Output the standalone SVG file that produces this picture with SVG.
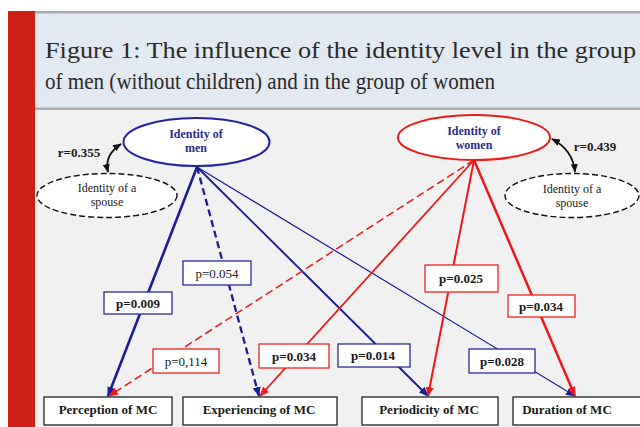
<svg xmlns="http://www.w3.org/2000/svg" width="640" height="427" viewBox="0 0 640 427">
<style>
.title{font-family:"Liberation Serif","DejaVu Serif",serif;font-size:23px;fill:#2a2a2a}
.t{font-family:"Liberation Serif","Times New Roman",serif;font-size:13px;fill:#1a1a1a;text-anchor:middle}
.e{font-size:12px}
.b{font-weight:bold}
.nav{fill:#2c2c8c;font-weight:bold}
.box{fill:#ffffff;stroke:#222;stroke-width:1.3}
.lb{fill:#ffffff;stroke:#2a2a9a;stroke-width:1.3}
.lr{fill:#ffffff;stroke:#ee2222;stroke-width:1.3}
.sp{fill:#ffffff;stroke:#111;stroke-width:1.4;stroke-dasharray:6 3}
.bl{stroke:#1c1c94;fill:none}
.rd{stroke:#f01818;fill:none}
.cor{stroke:#111;stroke-width:1.8;fill:none}
</style>
<defs>
<marker id="ab" viewBox="0 0 10 8" refX="9" refY="4" markerWidth="10" markerHeight="8" markerUnits="userSpaceOnUse" orient="auto"><path d="M0,0 L10,4 L0,8 Z" fill="#1c1c94"/></marker>
<marker id="ar" viewBox="0 0 10 8" refX="9" refY="4" markerWidth="10" markerHeight="8" markerUnits="userSpaceOnUse" orient="auto"><path d="M0,0 L10,4 L0,8 Z" fill="#f01818"/></marker>
<marker id="ak" viewBox="0 0 10 8" refX="9" refY="4" markerWidth="9" markerHeight="7" markerUnits="userSpaceOnUse" orient="auto-start-reverse"><path d="M0,0 L10,4 L0,8 Z" fill="#111"/></marker>
</defs>
<rect x="0" y="0" width="640" height="427" fill="#ffffff"/>
<rect x="8" y="11" width="27" height="416" fill="#cc2014"/>
<rect x="35" y="11" width="605" height="99" fill="#e3e9f1"/>
<rect x="35" y="11" width="605" height="2.5" fill="#a8acb1"/>
<rect x="35" y="107.5" width="605" height="2.5" fill="#a8acb1"/>
<rect x="35" y="110" width="605" height="317" fill="#f1f1f1"/>
<text class="title" x="45" y="58" textLength="591" lengthAdjust="spacingAndGlyphs">Figure 1: The influence of the identity level in the group</text>
<text class="title" x="45" y="89" textLength="450" lengthAdjust="spacingAndGlyphs">of men (without children) and in the group of women</text>

<g id="connectors">
<line class="bl" x1="197" y1="167" x2="108" y2="396" stroke-width="2.6" marker-end="url(#ab)"/>
<line class="bl" x1="197" y1="167" x2="259" y2="396" stroke-width="2.3" stroke-dasharray="7 4" marker-end="url(#ab)"/>
<line class="bl" x1="197" y1="167" x2="428" y2="396" stroke-width="1.9" marker-end="url(#ab)"/>
<line class="bl" x1="197" y1="167" x2="575" y2="396" stroke-width="1.2" marker-end="url(#ab)"/>
<line class="rd" x1="474" y1="160" x2="109" y2="396" stroke-width="1.5" stroke-dasharray="8 4" marker-end="url(#ar)"/>
<line class="rd" x1="474" y1="160" x2="260" y2="396" stroke-width="1.8" marker-end="url(#ar)"/>
<line class="rd" x1="474" y1="160" x2="428" y2="396" stroke-width="2" marker-end="url(#ar)"/>
<line class="rd" x1="474" y1="160" x2="575" y2="396" stroke-width="2.5" marker-end="url(#ar)"/>
<path class="cor" d="M121 144 Q104 155 108 172" marker-start="url(#ak)" marker-end="url(#ak)"/>
<path class="cor" d="M552 139 Q573 150 575 172" marker-start="url(#ak)" marker-end="url(#ak)"/>
</g>

<g id="men">
<ellipse cx="196.5" cy="142" rx="73" ry="24" fill="#fff" stroke="#2424a0" stroke-width="2"/>
<text class="t e nav" x="196" y="138">Identity of</text>
<text class="t e nav" x="196" y="152">men</text>
</g>
<g id="women">
<ellipse cx="474" cy="137.5" rx="76" ry="22.5" fill="#fff" stroke="#f01818" stroke-width="2"/>
<text class="t e nav" x="474" y="135">Identity of</text>
<text class="t e nav" x="474" y="149">women</text>
</g>
<g id="spouse-left">
<ellipse class="sp" cx="107" cy="195.5" rx="70" ry="22"/>
<text class="t e" x="107" y="192">Identity of a</text>
<text class="t e" x="107" y="206">spouse</text>
</g>
<g id="spouse-right">
<ellipse class="sp" cx="572" cy="195.5" rx="67" ry="22"/>
<text class="t e" x="572" y="193">Identity of a</text>
<text class="t e" x="572" y="207">spouse</text>
</g>
<g id="r-left"><text class="t b" x="79" y="157">r=0.355</text></g>
<g id="r-right"><text class="t b" x="595" y="151">r=0.439</text></g>

<g id="p0009"><rect class="lb" x="104" y="292" width="68" height="22"/><text class="t b" x="138" y="308">p=0.009</text></g>
<g id="p0054"><rect class="lb" x="183" y="261" width="68" height="24"/><text class="t" x="217" y="278">p=0.054</text></g>
<g id="p0114"><rect class="lr" x="153" y="349" width="66" height="24"/><text class="t" x="186" y="366">p=0,114</text></g>
<g id="p0034a"><rect class="lr" x="259" y="344" width="70" height="24"/><text class="t b" x="294" y="361">p=0.034</text></g>
<g id="p0014"><rect class="lb" x="338" y="344" width="72" height="23"/><text class="t b" x="373" y="360">p=0.014</text></g>
<g id="p0025"><rect class="lr" x="425" y="265" width="73" height="27"/><text class="t b" x="461" y="283">p=0.025</text></g>
<g id="p0034b"><rect class="lr" x="508" y="295" width="67" height="22"/><text class="t b" x="541" y="311">p=0.034</text></g>
<g id="p0028"><rect class="lb" x="469" y="349" width="66" height="24"/><text class="t b" x="502" y="366">p=0.028</text></g>

<g id="perception"><rect class="box" x="44" y="397" width="128" height="28"/><text class="t b" x="108" y="414">Perception of MC</text></g>
<g id="experiencing"><rect class="box" x="183" y="397" width="154" height="28"/><text class="t b" x="259" y="414">Experiencing of MC</text></g>
<g id="periodicity"><rect class="box" x="362" y="397" width="136" height="28"/><text class="t b" x="429" y="414">Periodicity of MC</text></g>
<g id="duration"><rect class="box" x="513" y="397" width="130" height="28"/><text class="t b" x="567" y="414">Duration of MC</text></g>
</svg>
